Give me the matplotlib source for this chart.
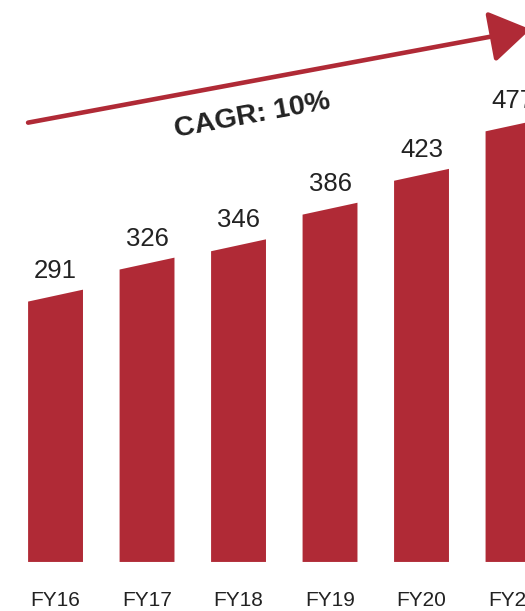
import matplotlib.pyplot as plt
from matplotlib.patches import Polygon, FancyArrowPatch

years = ["FY16", "FY17", "FY18", "FY19", "FY20", "FY21"]
revenue = [291, 326, 346, 386, 423, 477]
cagr_label = "CAGR: 10%"

RED = "#B02A36"
TXT = "#222222"

plt.rcParams['font.family'] = ['Liberation Sans', 'DejaVu Sans']

fig = plt.figure(figsize=(5.25, 6.11), dpi=100)
ax = fig.add_axes([0, 0, 1, 1])
ax.set_xlim(-0.607, 5.131)
ax.set_ylim(-53.6, 614)
ax.axis('off')

width = 0.60
slant = 6.5  # half of the top-edge tilt, in value units

for i, (yr, v) in enumerate(zip(years, revenue)):
    x0, x1 = i - width / 2, i + width / 2
    poly = Polygon([(x0, 0), (x1, 0), (x1, v + slant), (x0, v - slant)],
                   closed=True, facecolor=RED, edgecolor='none')
    ax.add_patch(poly)
    ax.text(i, v + 14, str(v), ha='center', va='bottom', fontsize=18.5, color=TXT)
    ax.text(i, -42, yr, ha='center', va='center', fontsize=15, color=TXT)

# growth arrow
arrow = FancyArrowPatch((-0.30, 480), (5.19, 582),
                        arrowstyle='-|>,head_length=25,head_width=16',
                        mutation_scale=1, color=RED, lw=3.3,
                        shrinkA=0, shrinkB=0)
ax.add_patch(arrow)

ax.text(2.15, 488, cagr_label, ha='center', va='center', fontsize=20.5,
        fontweight='bold', color=TXT, rotation=10.5)

fig.savefig("out.png", dpi=100)
